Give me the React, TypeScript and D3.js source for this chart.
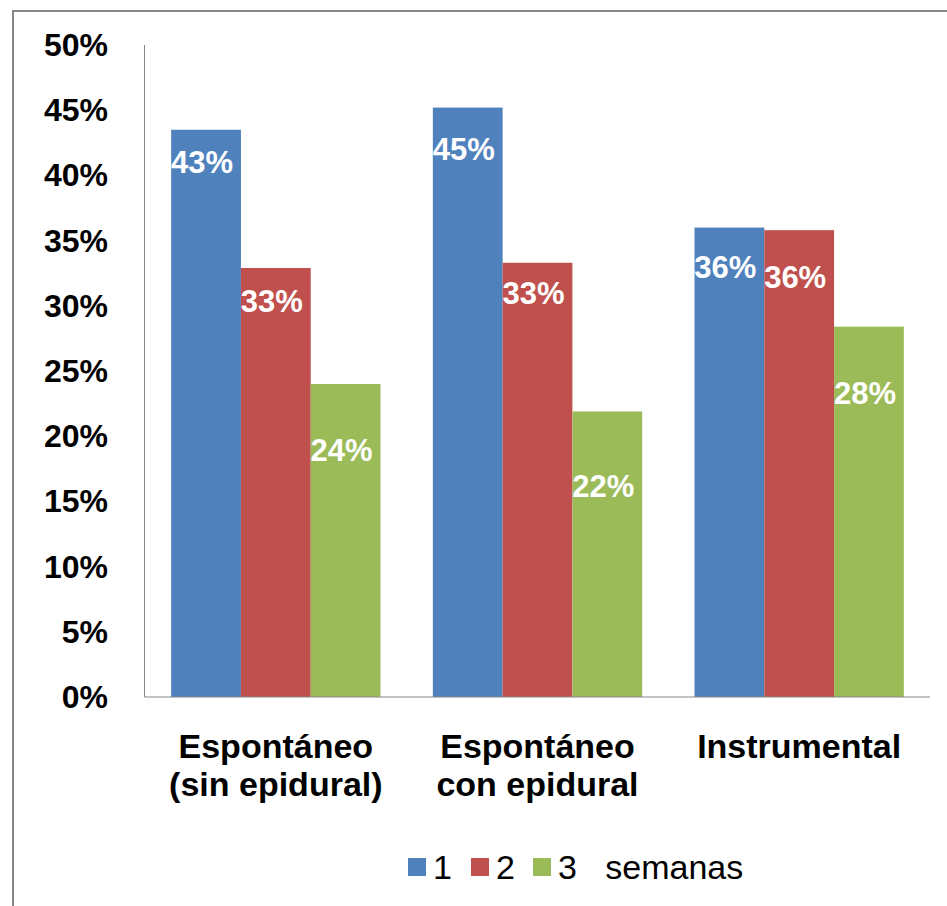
import React from "react";
import * as d3 from "d3";

const categories = [["Espontáneo", "(sin epidural)"], ["Espontáneo", "con epidural"], ["Instrumental"]];
const seriesNames = ["1", "2", "3   semanas"];
const week1 = [43.5, 45.2, 36.0];
const week2 = [32.9, 33.3, 35.8];
const week3 = [24.0, 21.9, 28.4];
const labels1 = ["43%", "45%", "36%"];
const labels2 = ["33%", "33%", "36%"];
const labels3 = ["24%", "22%", "28%"];
const yTicks = [0, 5, 10, 15, 20, 25, 30, 35, 40, 45, 50];

// layout: label baseline offsets below bar top (px) per series per category
const labelDy = [
  [43, 52, 50],
  [44, 41, 58],
  [77, 86, 77],
];
const colors = ["#4F81BD", "#C0504D", "#9BBB59"];
const legendX = [408, 471, 533];

export default function App() {
  const series = [week1, week2, week3];
  const seriesLabels = [labels1, labels2, labels3];
  const x0 = d3.scaleBand<number>().domain([0, 1, 2]).range([145, 930]).paddingInner(0.2).paddingOuter(0.1);
  const bw = x0.bandwidth();
  const x1 = d3.scaleBand<number>().domain([0, 1, 2]).range([0, bw]);
  const y = d3.scaleLinear().domain([0, 50]).range([697, 45]);
  const font = "Liberation Sans, Arial, sans-serif";
  return (
    <svg width={947} height={906} style={{ position: "absolute", left: 0, top: 0, background: "#fff" }} fontFamily={font}>
      <rect x={0} y={0} width={947} height={906} fill="#fff" />
      <rect x={13} y={11} width={1000} height={1000} fill="none" stroke="#868686" strokeWidth={2} />
      {yTicks.map((t) => (
        <text key={t} x={108} y={y(t) + 11} textAnchor="end" fontSize={32} fontWeight="bold" fill="#000">
          {t}%
        </text>
      ))}
      {series.map((vals, si) =>
        vals.map((v, ci) => {
          const bx = (x0(ci) as number) + (x1(si) as number);
          return (
            <g key={`${si}-${ci}`}>
              <rect x={bx} y={y(v)} width={x1.bandwidth()} height={y(0) - y(v)} fill={colors[si]} />
              <text
                x={bx + x1.bandwidth() / 2 - 4}
                y={y(v) + labelDy[si][ci]}
                textAnchor="middle"
                fontSize={31}
                fontWeight="bold"
                fill="#fff"
              >
                {seriesLabels[si][ci]}
              </text>
            </g>
          );
        })
      )}
      <line x1={144.5} x2={144.5} y1={45} y2={697} stroke="#868686" strokeWidth={1} />
      <line x1={144.5} x2={930} y1={697} y2={697} stroke="#868686" strokeWidth={1} />
      {categories.map((lines, ci) => (
        <text key={ci} textAnchor="middle" fontSize={34} fontWeight="bold" fill="#000">
          {lines.map((l, li) => (
            <tspan key={li} x={(x0(ci) as number) + bw / 2} y={758 + li * 38}>
              {l}
            </tspan>
          ))}
        </text>
      ))}
      {seriesNames.map((n, si) => (
        <g key={n}>
          <rect x={legendX[si]} y={858} width={18} height={18} fill={colors[si]} />
          <text x={legendX[si] + 25} y={879} fontSize={34} fill="#000" style={{ whiteSpace: "pre" }}>
            {n}
          </text>
        </g>
      ))}
    </svg>
  );
}
